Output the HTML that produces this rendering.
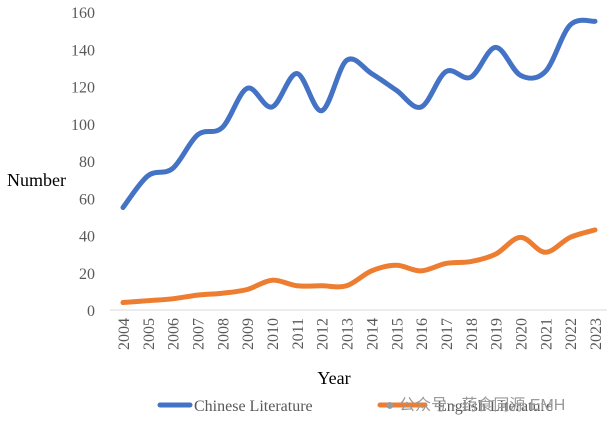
<!DOCTYPE html>
<html><head><meta charset="utf-8"><style>
body{margin:0;background:#fff}
svg text{font-family:"Liberation Serif",serif;fill:#595959}
</style></head><body>
<svg id="c" width="614" height="427">
<g id="axes"></g><g id="series"></g>
<text x="7" y="186" font-size="18" style="fill:#000">Number</text>
<text x="334" y="384" font-size="18" text-anchor="middle" style="fill:#000">Year</text>
<g>
<line x1="160" y1="405" x2="190" y2="405" stroke="#4472C4" stroke-width="5" stroke-linecap="round"/>
<text x="194" y="411" font-size="16">Chinese Literature</text>
<line x1="380" y1="405" x2="425" y2="405" stroke="#ED7D31" stroke-width="5" stroke-linecap="round"/>
<text x="437" y="411" font-size="16">English Literature</text>
</g>
<text x="385" y="410" font-size="16" style="fill:#9a9a9a;font-family:'Liberation Sans','Noto Sans CJK SC',sans-serif">● 公众号 · 药食同源 EMH</text>
</svg>
<script>
const years=[2004,2005,2006,2007,2008,2009,2010,2011,2012,2013,2014,2015,2016,2017,2018,2019,2020,2021,2022,2023];
const chinese=[55,72,76,94,98,119,109,127,107,134,127,118,109,128,125,141,126,128,153,155];
const english=[4,5,6,8,9,11,16,13,13,13,21,24,21,25,26,30,39,31,39,43];
const yTicks=[0,20,40,60,80,100,120,140,160];
const NS="http://www.w3.org/2000/svg";
const x=i=>123+i*(595-123)/(years.length-1);
const y=v=>310-v*(310-12)/160;
const ax=document.getElementById('axes'),se=document.getElementById('series');
function mk(t,a,p){const e=document.createElementNS(NS,t);for(const k in a)e.setAttribute(k,a[k]);p.appendChild(e);return e;}
const base=mk('line',{x1:110,x2:607,y1:y(0),y2:y(0),stroke:'#d9d9d9'},ax);


yTicks.forEach(v=>{const t=mk('text',{x:95,y:y(v)+6,'font-size':16,'text-anchor':'end'},ax);t.textContent=v;

});
years.forEach((yr,i)=>{const t=mk('text',{x:0,y:0,'font-size':16,'text-anchor':'end',transform:`translate(${x(i)+6},318) rotate(-90)`},ax);t.textContent=yr;

});
function path(d){const p=d.map((v,i)=>[x(i),y(v)]);let s=`M${p[0][0]},${p[0][1]}`;
for(let i=0;i<p.length-1;i++){const p0=p[i-1]||p[i],p1=p[i],p2=p[i+1],p3=p[i+2]||p2;
s+=` C${p1[0]+(p2[0]-p0[0])/6},${p1[1]+(p2[1]-p0[1])/6} ${p2[0]-(p3[0]-p1[0])/6},${p2[1]-(p3[1]-p1[1])/6} ${p2[0]},${p2[1]}`;}return s;}
const l1=mk('path',{d:path(chinese),fill:'none',stroke:'#4472C4','stroke-width':5,'stroke-linecap':'round'},se);


const l2=mk('path',{d:path(english),fill:'none',stroke:'#ED7D31','stroke-width':5,'stroke-linecap':'round'},se);


</script>
</body></html>
